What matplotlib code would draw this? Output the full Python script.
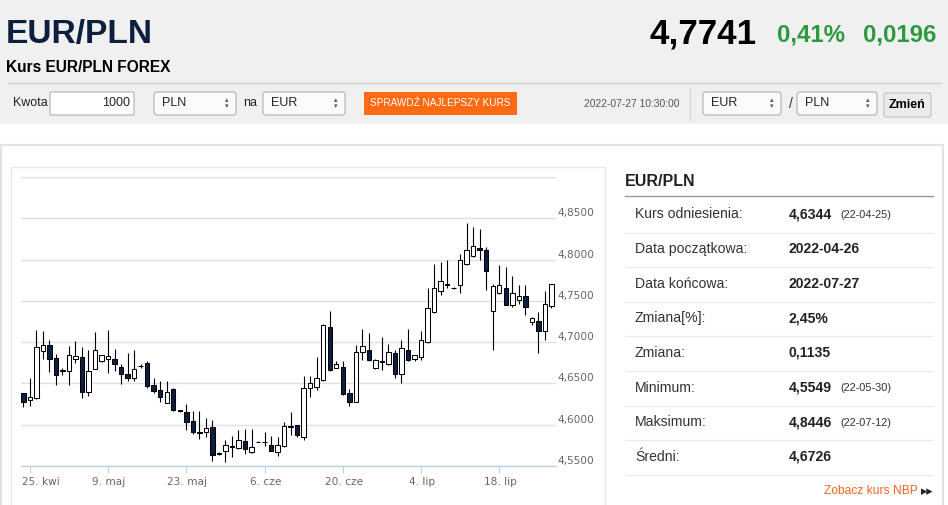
import matplotlib
matplotlib.use('Agg')
import matplotlib.pyplot as plt
import matplotlib.transforms as mtrans
from matplotlib.patches import Rectangle, FancyBboxPatch
import numpy as np

# ── dane świec (odczyt z wykresu) ──────────────────────────────────────────
OPEN = [4.638, 4.630, 4.632, 4.689, 4.696, 4.681, 4.6655, 4.665, 4.680, 4.682,
        4.640, 4.667, 4.677, 4.679, 4.679, 4.670, 4.662, 4.656, 4.6715, 4.675,
        4.648, 4.642, 4.626, 4.643, 4.6175, 4.616, 4.604, 4.5915, 4.591, 4.597,
        4.564, 4.568, 4.5735, 4.572, 4.580, 4.567, 4.5795, 4.5785, 4.575, 4.567,
        4.574, 4.597, 4.600, 4.585, 4.644, 4.646, 4.654, 4.718, 4.669, 4.670,
        4.639, 4.627, 4.688, 4.691, 4.669, 4.6765, 4.673, 4.687, 4.662, 4.691,
        4.680, 4.682, 4.700, 4.737, 4.762, 4.7695, 4.765, 4.769, 4.795, 4.804,
        4.814, 4.811, 4.738, 4.760, 4.766, 4.745, 4.751, 4.756, 4.725, 4.726,
        4.714, 4.744]
HIGH = [4.639, 4.656, 4.715, 4.714, 4.703, 4.686, 4.669, 4.695, 4.701, 4.694,
        4.690, 4.712, 4.685, 4.715, 4.692, 4.674, 4.687, 4.690, 4.673, 4.677,
        4.656, 4.653, 4.653, 4.644, 4.618, 4.625, 4.617, 4.617, 4.608, 4.606,
        4.5665, 4.581, 4.586, 4.593, 4.595, 4.595, 4.580, 4.591, 4.586, 4.585,
        4.603, 4.616, 4.600, 4.659, 4.659, 4.682, 4.722, 4.738, 4.677, 4.677,
        4.643, 4.696, 4.716, 4.711, 4.679, 4.706, 4.698, 4.691, 4.703, 4.716,
        4.685, 4.714, 4.766, 4.795, 4.797, 4.800, 4.767, 4.807, 4.844, 4.840,
        4.837, 4.815, 4.770, 4.794, 4.791, 4.780, 4.769, 4.769, 4.731, 4.736,
        4.762, 4.771]
LOW = [4.622, 4.623, 4.631, 4.679, 4.664, 4.648, 4.660, 4.648, 4.675, 4.632,
       4.635, 4.667, 4.676, 4.663, 4.665, 4.649, 4.653, 4.653, 4.669, 4.644,
       4.639, 4.627, 4.626, 4.617, 4.616, 4.593, 4.589, 4.583, 4.585, 4.556,
       4.5635, 4.555, 4.561, 4.571, 4.565, 4.566, 4.579, 4.574, 4.568, 4.562,
       4.573, 4.587, 4.585, 4.581, 4.634, 4.642, 4.653, 4.665, 4.669, 4.636,
       4.623, 4.627, 4.678, 4.677, 4.668, 4.666, 4.672, 4.656, 4.651, 4.677,
       4.677, 4.678, 4.699, 4.735, 4.757, 4.765, 4.764, 4.759, 4.794, 4.803,
       4.800, 4.763, 4.690, 4.758, 4.745, 4.743, 4.746, 4.733, 4.721, 4.687,
       4.702, 4.741]
CLOSE = [4.627, 4.633, 4.694, 4.697, 4.680, 4.660, 4.6665, 4.684, 4.683, 4.640,
         4.665, 4.691, 4.684, 4.683, 4.673, 4.662, 4.656, 4.668, 4.6710, 4.647,
         4.641, 4.633, 4.640, 4.618, 4.6165, 4.603, 4.591, 4.5905, 4.596, 4.563,
         4.566, 4.575, 4.5745, 4.581, 4.571, 4.573, 4.579, 4.5795, 4.568, 4.575,
         4.598, 4.599, 4.587, 4.645, 4.650, 4.657, 4.721, 4.666, 4.674, 4.637,
         4.627, 4.688, 4.695, 4.678, 4.678, 4.6775, 4.688, 4.662, 4.693, 4.678,
         4.684, 4.702, 4.741, 4.766, 4.774, 4.7705, 4.766, 4.800, 4.811, 4.817,
         4.811, 4.786, 4.768, 4.769, 4.745, 4.760, 4.756, 4.742, 4.729, 4.714,
         4.746, 4.770]
TICK_POS = [1, 13, 25, 37, 49, 61, 73]
TICK_LAB = ['25. kwi', '9. maj', '23. maj', '6. cze', '20. cze', '4. lip', '18. lip']
Y_TICKS = [4.55, 4.60, 4.65, 4.70, 4.75, 4.80, 4.85, 4.90]

TAB_LAB = ['Kurs odniesienia:', 'Data początkowa:', 'Data końcowa:', 'Zmiana[%]:',
           'Zmiana:', 'Minimum:', 'Maksimum:', 'Średni:']
TAB_VAL = ['4,6344', '2022-04-26', '2022-07-27', '2,45%', '0,1135', '4,5549', '4,8446', '4,6726']
TAB_DATE = ['(22-04-25)', '', '', '', '', '(22-05-30)', '(22-07-12)', '']

# ── kolory ─────────────────────────────────────────────────────────────────
C_NAVY = '#0c1f3d'; C_GREEN = '#2c9a3c'; C_ORANGE = '#ff6a13'
C_HDR = '#f0f0f0'; C_GRID = '#e0e0e0'; C_AXIS = '#c0d0e0'; C_LBL = '#666666'
ARIAL = ['Liberation Sans', 'DejaVu Sans']

W, H = 948, 505
fig = plt.figure(figsize=(W/100, H/100), dpi=100)
fig.patch.set_facecolor('white')
bg = fig.add_axes([0, 0, 1, 1]); bg.set_xlim(0, W); bg.set_ylim(H, 0); bg.axis('off')
pt = lambda px: px*0.72

# ─ nagłówek ──────────────────────────────────────────────────────────────
bg.add_patch(Rectangle((0, 0), W, 124, color=C_HDR, lw=0))
bg.text(6, 43.5, 'EUR/PLN', fontsize=pt(33.5), color=C_NAVY, family=ARIAL,
        fontweight='bold', va='baseline')
bg.text(757, 43.5, '4,7741', fontsize=pt(35), color='black', family=ARIAL,
        fontweight='bold', va='baseline', ha='right')
bg.text(777, 41.5, '0,41%', fontsize=pt(24), color=C_GREEN, family=ARIAL, fontweight='bold', va='baseline')
bg.text(936, 41.5, '0,0196', fontsize=pt(24), color=C_GREEN, family=ARIAL,
        fontweight='bold', va='baseline', ha='right')
bg.text(6, 72, 'Kurs EUR/PLN FOREX', fontsize=pt(15.5), color='black', family=ARIAL,
        fontweight='bold', va='baseline')
bg.plot([8, 940], [83, 83], color='#d0d0d0', lw=1)

def box(x0, x1, y0=92, y1=115, fc='white', ec='#b0b0b0', r=3):
    bg.add_patch(FancyBboxPatch((x0, y0), x1-x0, y1-y0, boxstyle=f'round,pad=0,rounding_size={r}',
                                fc=fc, ec=ec, lw=0.8))

def select(x0, x1, txt):
    box(x0, x1, fc='#fbfbfb')
    bg.text(x0+8, 103.5, txt, fontsize=pt(12.5), family=ARIAL, va='center', color='#222')
    bg.text(x1-9, 100.5, '▴', fontsize=5, va='center', ha='center', color='#555')
    bg.text(x1-9, 106.5, '▾', fontsize=5, va='center', ha='center', color='#555')

bg.text(13, 103.5, 'Kwota', fontsize=pt(12.5), family=ARIAL, va='center', color='#222')
box(50, 134, r=1)
bg.text(130, 103.5, '1000', fontsize=pt(12.5), family=ARIAL, va='center', ha='right', color='#222')
select(154, 236, 'PLN')
bg.text(243, 103.5, 'na', fontsize=pt(12.5), family=ARIAL, va='center', color='#222')
select(263, 345, 'EUR')
bg.add_patch(Rectangle((364, 92), 153, 23, color=C_ORANGE, lw=0))
bg.text(440.5, 103.5, 'SPRAWDŹ NAJLEPSZY KURS', fontsize=pt(10), family=ARIAL,
        va='center', ha='center', color='white')
bg.text(680, 104, '2022-07-27 10:30:00', fontsize=pt(10.3), family=ARIAL,
        va='center', ha='right', color='#555')
bg.plot([690, 690], [88, 120], color='#d8d8d8', lw=1)
select(703, 781, 'EUR')
bg.text(789, 103.5, '/', fontsize=pt(14), family=ARIAL, va='center', color='#333')
select(797, 877, 'PLN')
box(884, 931, 93, 117, fc='#ebebeb', ec='#c0c0c0', r=2)
bg.text(907.5, 105, 'Zmień', fontsize=pt(12.5), family=ARIAL, fontweight='bold',
        va='center', ha='center', color='black')

# ─ ramki ─────────────────────────────────────────────────────────────────
bg.add_patch(Rectangle((1, 145), 942, 400, fc='white', ec='#e3e3e3', lw=1.6))
bg.add_patch(Rectangle((11.5, 167), 593.5, 400, fc='white', ec='#e8e8e8', lw=1))

# ─ panel boczny ──────────────────────────────────────────────────────────
bg.text(625, 186, 'EUR/PLN', fontsize=pt(16), family=ARIAL, fontweight='bold',
        va='baseline', color='#222')
bg.plot([625, 933], [196, 196], color='#999999', lw=1)
row_y = 214.5 + 34.6*np.arange(len(TAB_LAB))
for yy, lab, val, dt in zip(row_y, TAB_LAB, TAB_VAL, TAB_DATE):
    bg.text(635, yy, lab, fontsize=pt(14), family=ARIAL, va='center', color='#333')
    bg.text(789, yy, val, fontsize=pt(14), family=ARIAL, fontweight='bold', va='center', color='#222')
    if dt:
        bg.text(840, yy+0.5, dt, fontsize=pt(11), family=ARIAL, va='center', color='#333')
    bg.plot([625, 933], [yy+18, yy+18], color='#ebebeb', lw=1)
bg.text(918, 491.5, 'Zobacz kurs NBP', fontsize=pt(12), family=ARIAL, va='center',
        ha='right', color='#f26522')
bg.text(927, 492, '▸▸', fontsize=pt(12.5), family=['DejaVu Sans'], va='center', ha='center', color='#222')

# ─ wykres świecowy ───────────────────────────────────────────────────────
o, h, l, c = map(np.array, (OPEN, HIGH, LOW, CLOSE))
x = np.arange(len(o))
x0px, dx = 23.3, 6.52
L, R, T, B = 21, 555.7, 177, 466
ax = fig.add_axes([L/W, 1-B/H, (R-L)/W, (B-T)/H])
ax.set_facecolor('none')
ax.set_xlim((L-x0px)/dx, (R-x0px)/dx)
ax.set_ylim(4.55, 4.90)

up = c >= o
ax.vlines(x, l, h, color='black', lw=0.8, zorder=2)
ax.bar(x, np.maximum(np.abs(c-o), 0.0004), bottom=np.minimum(o, c), width=0.68,
       color=np.where(up, 'white', C_NAVY), edgecolor='black', lw=0.75, zorder=3)

ax.set_yticks(Y_TICKS)
ax.set_yticklabels([f'{v:.4f}'.replace('.', ',') for v in Y_TICKS[:-1]] + [''])
ax.yaxis.tick_right()
ax.tick_params(axis='y', length=0, pad=1.2, labelsize=7.6, labelcolor=C_LBL)
for t in ax.get_yticklabels():
    t.set_va('bottom'); t.set_family('DejaVu Sans')
ax.grid(axis='y', color=C_GRID, lw=1)
ax.set_axisbelow(True)
ax.set_xticks(TICK_POS)
ax.set_xticklabels([])
ax.tick_params(axis='x', direction='out', length=5, width=0.8, color=C_AXIS)
# etykiety osi X (pierwsza dosunięta do lewej krawędzi, jak w Highcharts)
xlab_tr = mtrans.blended_transform_factory(ax.transData, ax.transAxes)
for i, (p, lab) in enumerate(zip(TICK_POS, TICK_LAB)):
    if i == 0:
        ax.text(ax.get_xlim()[0] + 0.1, -15.7/(B-T), lab, transform=xlab_tr, ha='left',
                va='center', fontsize=7.6, color=C_LBL, clip_on=False)
    else:
        ax.text(p + 0.15, -15.7/(B-T), lab, transform=xlab_tr, ha='center',
                va='center', fontsize=7.6, color=C_LBL, clip_on=False)
for s in ['top', 'left', 'right']:
    ax.spines[s].set_visible(False)
ax.spines['bottom'].set_color(C_AXIS)
ax.spines['bottom'].set_linewidth(1)

plt.savefig('out.png', dpi=100, facecolor='white')
